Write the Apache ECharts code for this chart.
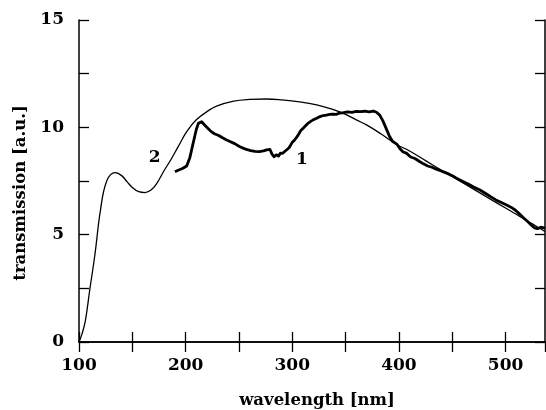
<!DOCTYPE html>
<html><head><meta charset="utf-8">
<script src="https://cdn.jsdelivr.net/npm/echarts@6/dist/echarts.min.js"></script>
<style>html,body{margin:0;padding:0;background:#fff}#c{width:546px;height:410px}</style>
</head><body><div id="c"></div>
<script>
// Curve 2 (thin, smooth)
var curve2Wl = [100,103,106,110,115,120,126,134,140,145,150,156,162,168,173,180,186,193,201,210,222,229,245,260,276,290,307,323,338,348,360,370,383,398,410,425,440,455,470,485,500,510,520,530,537];
var curve2Val = [0,0.4,1.0,2.4,4.1,6.1,7.5,7.89,7.75,7.47,7.2,7.0,6.96,7.1,7.39,8.0,8.48,9.1,9.8,10.35,10.8,10.99,11.22,11.3,11.32,11.28,11.19,11.05,10.84,10.65,10.35,10.1,9.7,9.2,8.9,8.45,8.0,7.56,7.12,6.68,6.24,5.95,5.65,5.36,5.15];
// Curve 1 (thick, measured)
var curve1Wl = [190,193,197,201,204,207,210,212,215,218,221,224,227,231,235,238,242,246,250,254,257,261,265,269,273,276,279,281,283,285,287,289,291,294,297,300,302,305,308,310,312,315,318,320,323,326,329,332,335,338,341,344,348,352,356,360,364,368,372,376,379,382,385,388,391,394,398,401,404,407,411,415,419,423,427,431,435,439,443,447,451,455,460,465,470,476,481,486,491,496,501,505,509,513,517,521,524,527,530,533,537];
var curve1Val = [7.93,8.0,8.08,8.2,8.6,9.25,9.9,10.19,10.26,10.1,9.95,9.8,9.7,9.62,9.5,9.42,9.33,9.24,9.12,9.03,8.97,8.92,8.88,8.87,8.9,8.95,8.97,8.75,8.63,8.72,8.66,8.8,8.79,8.92,9.05,9.3,9.4,9.6,9.85,9.95,10.05,10.2,10.3,10.36,10.42,10.5,10.55,10.57,10.6,10.62,10.6,10.66,10.68,10.72,10.7,10.74,10.73,10.75,10.72,10.76,10.7,10.57,10.3,9.95,9.6,9.35,9.22,9.0,8.85,8.8,8.62,8.55,8.42,8.3,8.2,8.14,8.05,7.98,7.9,7.82,7.72,7.6,7.48,7.36,7.22,7.08,6.93,6.77,6.62,6.5,6.38,6.28,6.15,5.97,5.78,5.6,5.45,5.32,5.28,5.35,5.3];
// Curve labels
var labelText = ['1','2'];
var labelPos = [[309,8.48],[171,8.57]];
var xTicksLabels = [100,200,300,400,500];
var yTicksLabels = [0,5,10,15];

function zip(a,b){return a.map(function(v,i){return [v,b[i]];});}
var fontFam = '"DejaVu Serif","Liberation Serif",serif';
var axisLine = {show:true, lineStyle:{color:'#000', width:1.5}};
var tick = {show:true, inside:true, length:10, lineStyle:{color:'#000', width:1.3}};

var chart = echarts.init(document.getElementById('c'));
chart.setOption({
  animation:false,
  backgroundColor:'#fff',
  grid:{left:79, right:1, top:20, bottom:68, containLabel:false, outerBoundsMode:'none'},
  xAxis:[{
    type:'value', min:100, max:537, interval:50, position:'bottom',
    axisLine:axisLine, axisTick:tick, splitLine:{show:false},
    axisLabel:{margin:15, color:'#000', fontFamily:fontFam, fontWeight:'bold', fontSize:17,
      showMaxLabel:false,
      formatter:function(v){return xTicksLabels.indexOf(v)>=0 ? String(v) : '';}},
    name:'wavelength [nm]', nameLocation:'middle', nameGap:50,
    nameTextStyle:{color:'#000', fontFamily:fontFam, fontWeight:'bold', fontSize:16.5, padding:[0,0,0,10]}
  },{
    type:'value', min:100, max:537, interval:50, position:'top',
    axisLine:axisLine, axisTick:tick, axisLabel:{show:false}, splitLine:{show:false}
  }],
  yAxis:[{
    type:'value', min:0, max:15, interval:2.5, position:'left',
    axisLine:axisLine, axisTick:tick, splitLine:{show:false},
    axisLabel:{margin:15, color:'#000', fontFamily:fontFam, fontWeight:'bold', fontSize:17,
      formatter:function(v){return yTicksLabels.indexOf(v)>=0 ? String(v) : '';}},
    name:'transmission [a.u.]', nameLocation:'middle', nameGap:46,
    nameTextStyle:{color:'#000', fontFamily:fontFam, fontWeight:'bold', fontSize:16.5, padding:[0,24,0,0]}
  },{
    type:'value', min:0, max:15, interval:2.5, position:'right',
    axisLine:axisLine, axisTick:tick, axisLabel:{show:false}, splitLine:{show:false}
  }],
  series:[{
    type:'line', data:zip(curve2Wl,curve2Val), smooth:0.4, symbol:'none',
    lineStyle:{color:'#000', width:1.3},
    markPoint:{symbol:'rect', symbolSize:1, itemStyle:{color:'rgba(0,0,0,0)'},
      label:{show:true, color:'#000', fontFamily:fontFam, fontWeight:'bold', fontSize:17, formatter:function(p){return p.name;}},
      data:[{name:labelText[1], coord:labelPos[1]}]}
  },{
    type:'line', data:zip(curve1Wl,curve1Val), symbol:'none',
    lineStyle:{color:'#000', width:2.8, join:'round'},
    markPoint:{symbol:'rect', symbolSize:1, itemStyle:{color:'rgba(0,0,0,0)'},
      label:{show:true, color:'#000', fontFamily:fontFam, fontWeight:'bold', fontSize:17, formatter:function(p){return p.name;}},
      data:[{name:labelText[0], coord:labelPos[0]}]}
  }]
});
</script></body></html>
